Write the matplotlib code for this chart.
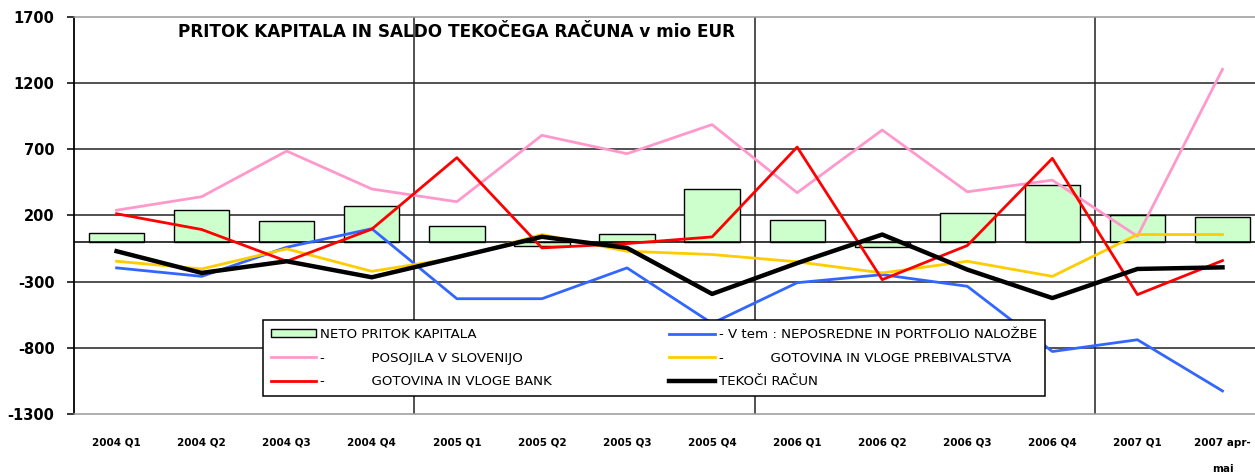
import matplotlib
matplotlib.use("Agg")
import matplotlib.pyplot as plt
import numpy as np

# ---------------- data (mio EUR) ----------------
quarters = ["2004 Q1", "2004 Q2", "2004 Q3", "2004 Q4",
            "2005 Q1", "2005 Q2", "2005 Q3", "2005 Q4",
            "2006 Q1", "2006 Q2", "2006 Q3", "2006 Q4",
            "2007 Q1", "2007 apr-\nmai"]
neto_pritok = [70, 240, 155, 268, 122, -28, 60, 400, 164, -35, 217, 430, 205, 192]
neposredne = [-196, -260, -40, 100, -429, -429, -196, -615, -308, -247, -335, -828, -739, -1126]
posojila = [240, 342, 687, 400, 304, 806, 667, 887, 372, 846, 379, 467, 43, 1305]
prebivalstvo = [-146, -204, -52, -222, -120, 56, -70, -95, -150, -234, -146, -260, 56, 56]
banke = [213, 94, -146, 97, 637, -45, -12, 38, 717, -285, -27, 632, -398, -141]
tekoci = [-70, -234, -146, -267, -115, 39, -45, -393, -160, 56, -209, -424, -204, -192]

y_ticks = [-1300, -800, -300, 200, 700, 1200, 1700]

plt.rcParams["font.family"] = ["DejaVu Sans"]

fig = plt.figure(figsize=(12.55, 4.76), dpi=100)
ax = fig.add_axes([0.059, 0.1303, 0.949, 0.834])

x = np.arange(len(quarters))

# grid lines and year separators
for v in y_ticks[1:-1]:
    ax.axhline(v, color="#222222", lw=1.1, zorder=0)
for sep in (3.5, 7.5, 11.5):
    ax.axvline(sep, color="#222222", lw=1.1, zorder=0)

bars = ax.bar(x, neto_pritok, width=0.65, color="#CCFFCC", edgecolor="black",
              lw=1.0, zorder=1)
ax.axhline(0, color="black", lw=1.1, zorder=1.5)

l_blue, = ax.plot(x, neposredne, color="#3366FF", lw=2.0, zorder=2)
l_pink, = ax.plot(x, posojila, color="#FF99CC", lw=2.0, zorder=2)
l_yell, = ax.plot(x, prebivalstvo, color="#FFCC00", lw=2.0, zorder=2)
l_red, = ax.plot(x, banke, color="#FF0000", lw=2.0, zorder=3)
l_blk, = ax.plot(x, tekoci, color="black", lw=3.2, zorder=4)

ax.set_xlim(-0.5, len(quarters) - 0.5)
ax.set_ylim(-1300, 1700)
ax.set_yticks(y_ticks)
ax.set_yticklabels([str(v) for v in y_ticks], fontsize=10.5, fontweight="bold")
ax.tick_params(axis="y", length=5, width=1.1, pad=9)
ax.set_xticks(x)
ax.set_xticklabels(quarters, fontsize=7.5, fontweight="bold", linespacing=3.0,
                   va="top")
ax.tick_params(axis="x", length=0, pad=17)

for side in ("top", "bottom"):
    ax.spines[side].set_color("#999999")
    ax.spines[side].set_linewidth(1.1)
ax.spines["left"].set_color("black")
ax.spines["left"].set_linewidth(1.3)
ax.spines["right"].set_visible(False)

ax.text(0.087, 0.962, "PRITOK KAPITALA IN SALDO TEKOČEGA RAČUNA v mio EUR",
        transform=ax.transAxes, fontsize=12.2, fontweight="bold", va="center")

handles = [bars, l_pink, l_red, l_blue, l_yell, l_blk]
labels = ["NETO PRITOK KAPITALA",
          "-           POSOJILA V SLOVENIJO",
          "-           GOTOVINA IN VLOGE BANK",
          "- V tem : NEPOSREDNE IN PORTFOLIO NALOŽBE",
          "-           GOTOVINA IN VLOGE PREBIVALSTVA",
          "TEKOČI RAČUN"]
leg = fig.legend(handles, labels, ncol=2, loc="upper left",
                 bbox_to_anchor=(263 / 1255, 1 - 320 / 476),
                 fontsize=9.6, frameon=True, fancybox=False, framealpha=1,
                 edgecolor="black", handlelength=3.4, handleheight=0.55,
                 handletextpad=0.3, columnspacing=8.8, labelspacing=0.8,
                 borderpad=0.6, borderaxespad=0)
leg.get_frame().set_linewidth(1.1)

fig.savefig("out.png", dpi=100)
